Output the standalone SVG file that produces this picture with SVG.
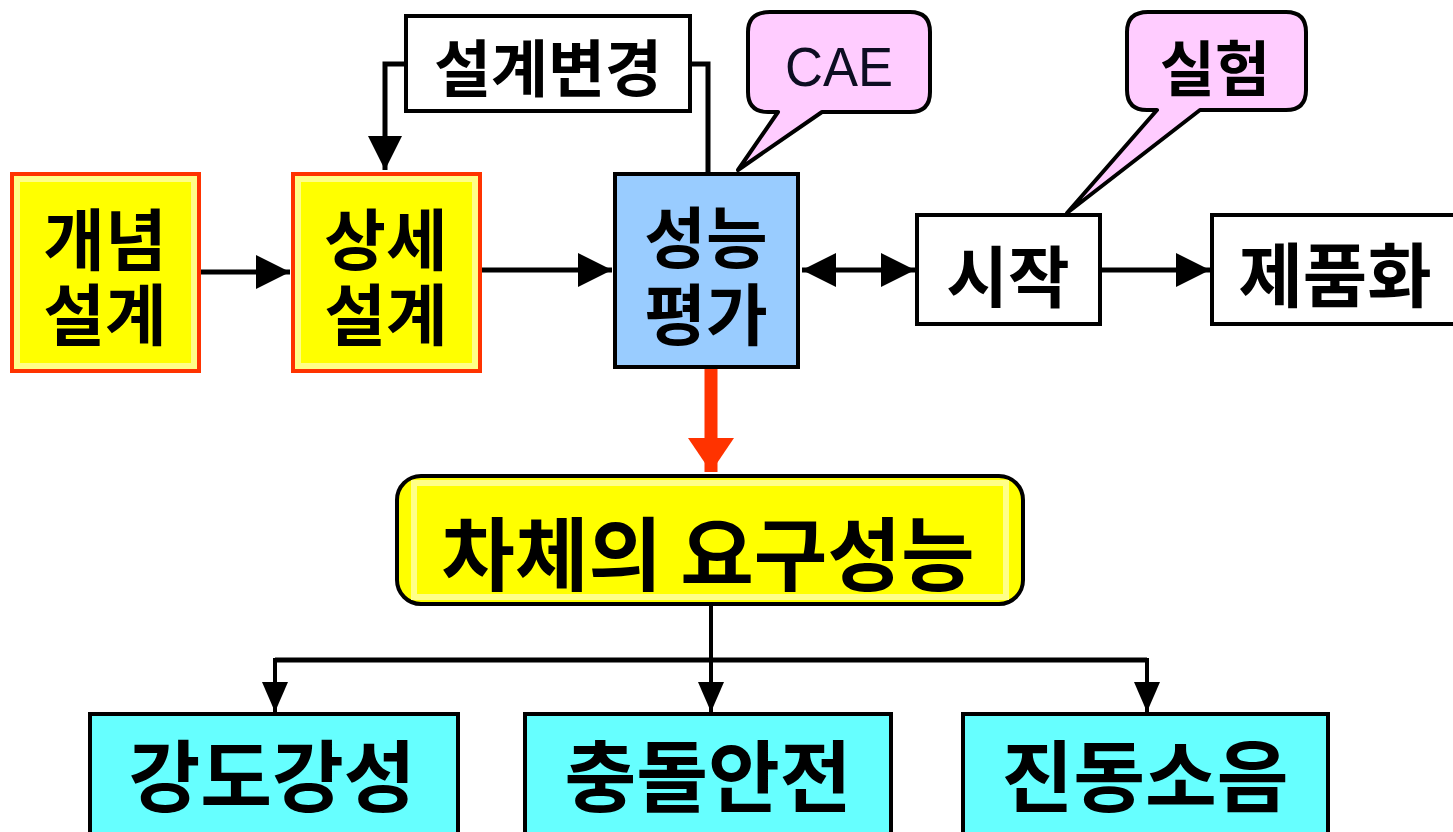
<svg xmlns="http://www.w3.org/2000/svg" width="1453" height="832" viewBox="0 0 1453 832">
<style>
.k{font-family:"Noto Sans CJK KR","Noto Sans",sans-serif;font-weight:bold;fill:#000;text-anchor:middle}
.ybox{fill:#FFFF00;stroke:#FF3300;stroke-width:4}
.yin{fill:none;stroke:#FFFF88;stroke-width:6}
.wbox{fill:#fff;stroke:#000;stroke-width:4}
.cbox{fill:#66FFFF;stroke:#000;stroke-width:4}
.bub{fill:#FFCCFF;stroke:#000;stroke-width:4;stroke-linejoin:round}
.ln{fill:none;stroke:#000;stroke-width:5}
.ln2{fill:none;stroke:#000;stroke-width:4}
</style>
<defs>
<marker id="ah" markerUnits="userSpaceOnUse" markerWidth="36" markerHeight="34" refX="34" refY="17" orient="auto-start-reverse" viewBox="0 0 36 34">
<path d="M0,0 L34,17 L0,34 z" fill="#000"/>
</marker>
<marker id="ahs" markerUnits="userSpaceOnUse" markerWidth="32" markerHeight="32" refX="30" refY="16" orient="auto" viewBox="0 0 32 32">
<path d="M0,3 L30,16 L0,29 z" fill="#000"/>
</marker>
<marker id="ahr" markerUnits="userSpaceOnUse" markerWidth="34" markerHeight="46" refX="34" refY="23" orient="auto" viewBox="0 0 34 46">
<path d="M0,0 L34,23 L0,46 z" fill="#FF3300"/>
</marker>
</defs>

<g id="connectors">
<path class="ln" d="M199,272 L290,272" marker-end="url(#ah)"/>
<path class="ln" d="M480,270 L612,270" marker-end="url(#ah)"/>
<path class="ln" d="M802,270 L915,270" marker-start="url(#ah)" marker-end="url(#ah)"/>
<path class="ln" d="M1100,270 L1210,270" marker-end="url(#ah)"/>
<path class="ln" d="M406,64 L385,64 L385,170" marker-end="url(#ah)"/>
<path class="ln" d="M690,64 L708,64 L708,174"/>
<path d="M711,368 L711,472" fill="none" stroke="#FF3300" stroke-width="13" marker-end="url(#ahr)"/>
<path class="ln2" d="M711,605 L711,712" marker-end="url(#ahs)"/>
<path class="ln" d="M275,660 L1147,660"/>
<path class="ln2" d="M275,658 L275,712" marker-end="url(#ahs)"/>
<path class="ln2" d="M1147,658 L1147,712" marker-end="url(#ahs)"/>
</g>

<g id="n-concept">
<rect class="ybox" x="12" y="174" width="187" height="197"/>
<rect class="yin" x="17" y="179" width="177" height="187"/>
<text class="k" x="105" y="265" font-size="67"><tspan x="105" y="265">개념</tspan><tspan x="105" y="340">설계</tspan></text>
</g>

<g id="n-detail">
<rect class="ybox" x="293" y="174" width="187" height="197"/>
<rect class="yin" x="298" y="179" width="177" height="187"/>
<text class="k" x="386" y="265" font-size="67"><tspan x="386" y="265">상세</tspan><tspan x="386" y="340">설계</tspan></text>
</g>

<g id="n-change">
<rect class="wbox" x="406" y="16" width="284" height="95"/>
<text class="k" x="548" y="92" font-size="62">설계변경</text>
</g>

<g id="n-eval">
<rect x="615" y="174" width="183" height="193" fill="#99CCFF" stroke="#000" stroke-width="4"/>
<text class="k" x="706" y="263" font-size="67"><tspan x="706" y="263">성능</tspan><tspan x="706" y="340">평가</tspan></text>
</g>

<g id="n-cae">
<path class="bub" d="M770,12 L910,12 Q930,12 930,32 L930,92 Q930,112 910,112 L822,112 L738,170 L778,112 L768,112 Q748,112 748,92 L748,32 Q748,12 770,12 z"/>
<text x="839" y="86" font-family="'Liberation Sans',Arial,sans-serif" font-size="56" fill="#0d0d22" text-anchor="middle" textLength="108" lengthAdjust="spacingAndGlyphs">CAE</text>
</g>

<g id="n-exp">
<path class="bub" d="M1148,12 L1286,12 Q1306,12 1306,32 L1306,90 Q1306,110 1286,110 L1200,110 L1067,213 L1157,110 L1147,110 Q1127,110 1127,90 L1127,32 Q1127,12 1148,12 z"/>
<text class="k" x="1215" y="91" font-size="60">실험</text>
</g>

<g id="n-proto">
<rect class="wbox" x="917" y="215" width="183" height="109"/>
<text class="k" x="1008" y="302" font-size="67">시작</text>
</g>

<g id="n-product">
<rect class="wbox" x="1212" y="215" width="245" height="109"/>
<text class="k" x="1335" y="302" font-size="70">제품화</text>
</g>

<g id="n-req">
<rect x="397" y="476" width="626" height="128" rx="24" fill="#FFFF00" stroke="#000" stroke-width="4"/>
<rect x="414" y="483" width="592" height="114" fill="none" stroke="#FFFF88" stroke-width="6"/>
<text class="k" x="708" y="584" font-size="80">차체의 요구성능</text>
</g>

<g id="n-strength">
<rect class="cbox" x="90" y="714" width="368" height="130"/>
<text class="k" x="272" y="806" font-size="78">강도강성</text>
</g>

<g id="n-crash">
<rect class="cbox" x="525" y="714" width="366" height="130"/>
<text class="k" x="708" y="806" font-size="78">충돌안전</text>
</g>

<g id="n-nvh">
<rect class="cbox" x="963" y="714" width="365" height="130"/>
<text class="k" x="1145" y="806" font-size="78">진동소음</text>
</g>
</svg>
